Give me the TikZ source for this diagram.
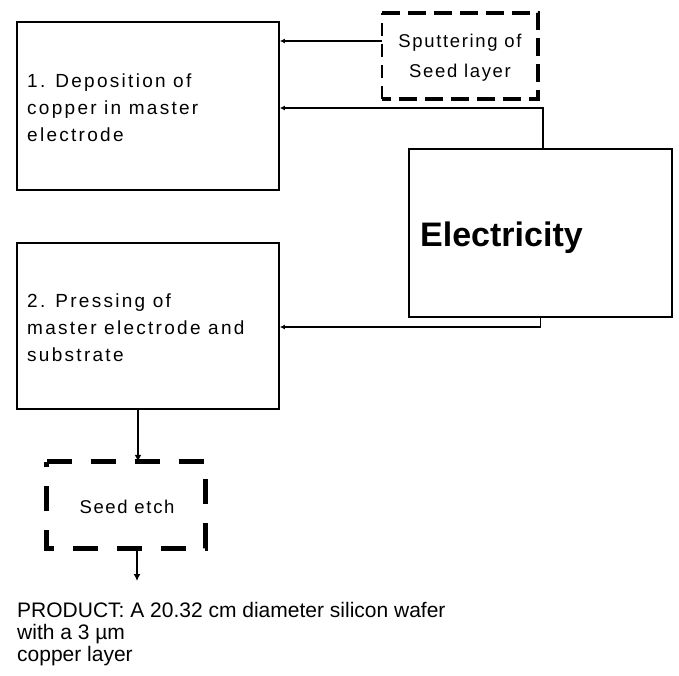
\documentclass[tikz,border=0pt]{standalone}
\usepackage{fontspec}
\setmainfont{Liberation Sans}
\newfontfamily\spacedfont[LetterSpace=12]{Liberation Sans}
\newfontfamily\midfont[LetterSpace=9]{Liberation Sans}
\usetikzlibrary{arrows.meta,calc}
\begin{document}
\begin{tikzpicture}[x=1pt,y=-1pt,
  box/.style={draw=black,line width=1.8pt,minimum width=#1,inner sep=0pt},
  box/.default=262pt,
  arr/.style={line width=1.5pt,-{Latex[length=5pt,width=5pt]}},
  darr/.style={line width=1.5pt,-{Latex[length=7pt,width=7pt]}},
  thickdash/.style={line width=4pt,dash pattern=on 18pt off 8pt},
  thindash/.style={line width=1.6pt,dash pattern=on 13pt off 8pt},
  seeddash/.style={line width=5pt,dash pattern=on 25pt off 19pt},
  boxtext/.style={inner sep=0pt,align=left,anchor=north west,
    font=\fontsize{19}{27}\selectfont\spacedfont},
]
\useasboundingbox (0,0) rectangle (679,675);
\fill[white] (0,0) rectangle (679,675);

% boxes
\node[box=262pt,minimum height=168pt] (box1) at (148,106) {};
\node[box=262pt,minimum height=166pt] (box2) at (148,326) {};
\node[box=263pt,minimum height=168pt] (elec) at (540.5,233) {};
\node[minimum width=156pt,minimum height=86pt,inner sep=0pt] (sput) at (460,56) {};
\node[minimum width=158pt,minimum height=86pt,inner sep=0pt] (seed) at (126,505) {};

% dashed borders
\draw[thickdash] (sput.north west) -- (sput.north east) -- (sput.south east) -- (sput.south west);
\draw[thindash] (sput.south west) -- (sput.north west);
\draw[seeddash] (seed.north west) -- (seed.north east) -- (seed.south east) -- (seed.south west) -- cycle;

% texts
\node[boxtext] (t1) at (27,74) {1. Deposition of\\copper in master\\electrode};
\node[boxtext] (t2) at (27,294) {2. Pressing of\\master electrode and\\substrate};
\node[inner sep=0pt,anchor=base west,font=\fontsize{34}{40}\selectfont\bfseries] (te) at (420,246) {Electricity};
\node[inner sep=0pt,align=center,anchor=north,font=\fontsize{18.5}{30}\selectfont\midfont] (ts) at (460,34) {Sputtering of\\Seed layer};
\node[inner sep=0pt,anchor=base,font=\fontsize{18.5}{22}\selectfont\midfont] (tse) at (127,513) {Seed etch};
\node[inner sep=0pt,align=left,anchor=north west,font=\fontsize{21}{22}\selectfont] (tp) at (17,602.5)
  {PRODUCT: A 20.32 cm diameter silicon wafer\\with a 3 µm\\copper layer};

% connectors
\draw[arr] ([yshift=15pt]sput.west) -- ([yshift=15pt]sput.west -| box1.east);
\draw[arr] ([xshift=2.5pt]elec.north) |- ([yshift=-2pt]box1.east);
\draw[arr] (elec.south) |- ([yshift=-1pt]box2.east);
\draw[darr] ([xshift=-10pt]box2.south) -- ([xshift=-10pt]box2.south |- seed.north);
\coordinate (prod) at (137,581);
\draw[darr] (seed.south -| prod) -- (prod);
\end{tikzpicture}
\end{document}
